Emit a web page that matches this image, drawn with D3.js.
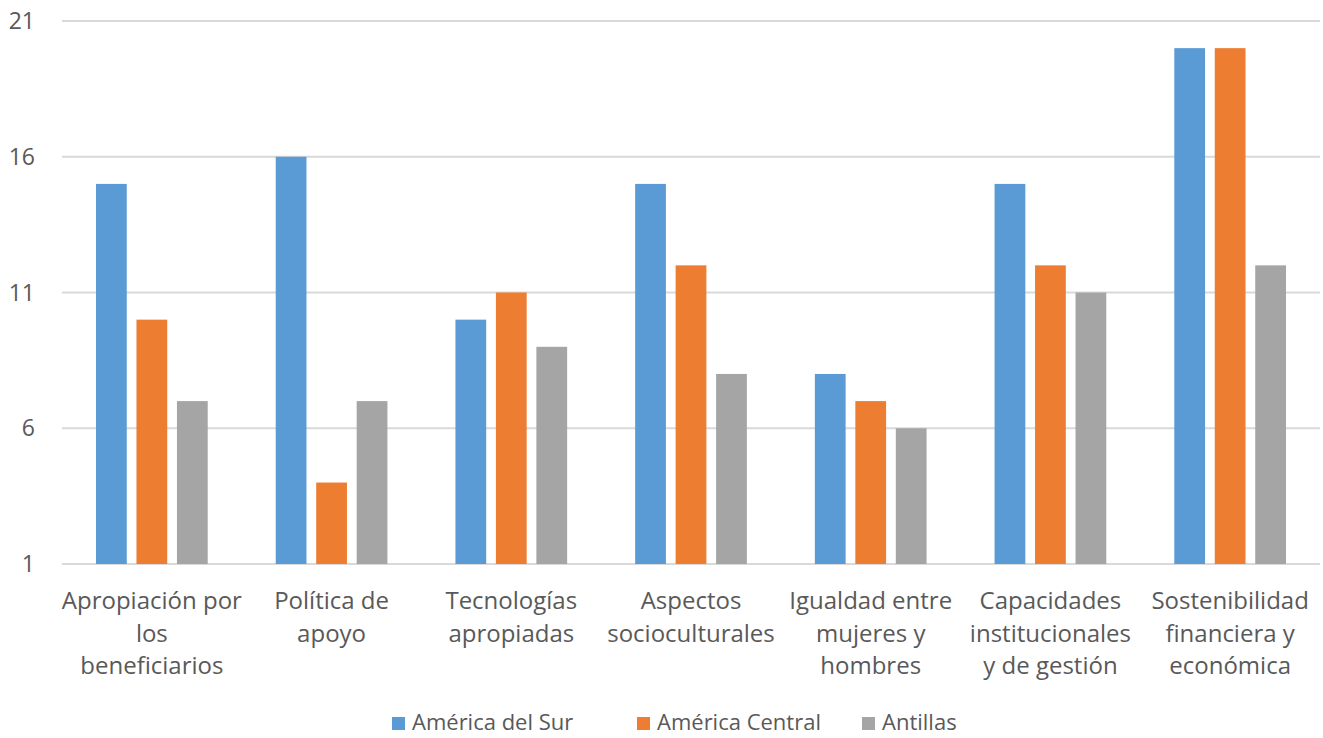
<!DOCTYPE html>
<html>
<head>
<meta charset="utf-8">
<script src="https://cdn.jsdelivr.net/npm/d3@7"></script>
<style>
	body { margin: 0; background: #fff; }
	text { font-family: "Open Sans", Lato, sans-serif; fill: #595959; }
</style>
</head>
<body>
<svg id="chart" width="1323" height="738"></svg>
<script>
// data
const categories = [
	['Apropiación por', 'los', 'beneficiarios'],
	['Política de', 'apoyo'],
	['Tecnologías', 'apropiadas'],
	['Aspectos', 'socioculturales'],
	['Igualdad entre', 'mujeres y', 'hombres'],
	['Capacidades', 'institucionales', 'y de gestión'],
	['Sostenibilidad', 'financiera y', 'económica']
];
const seriesNames = ['América del Sur', 'América Central', 'Antillas'];
const surValues = [15, 16, 10, 15, 8, 15, 20];
const centralValues = [10, 4, 11, 12, 7, 12, 20];
const antillasValues = [7, 7, 9, 8, 6, 11, 12];
const yTicks = [1, 6, 11, 16, 21];
const colors = ['#5b9bd5', '#ed7d31', '#a5a5a5'];

const series = [surValues, centralValues, antillasValues];
const svg = d3.select('#chart');

const plotLeft = 62, plotRight = 1320, plotTop = 21, plotBottom = 564;

let x = d3.scaleBand()
	.domain(d3.range(categories.length))
	.range([plotLeft, plotRight])
	.paddingInner(0)
	.paddingOuter(0);

let inner = d3.scaleBand()
	.domain(d3.range(series.length))
	.range([34, x.bandwidth() - 34])
	.paddingInner(0.24);

let y = d3.scaleLinear()
	.domain([1, 21])
	.range([plotBottom, plotTop]);

// gridlines
svg.append('g')
	.selectAll('line')
	.data(yTicks)
	.join('line')
	.attr('x1', plotLeft)
	.attr('x2', plotRight)
	.attr('y1', d => y(d))
	.attr('y2', d => y(d))
	.attr('stroke', '#d9d9d9')
	.attr('stroke-width', 2);

// y tick labels
svg.append('g')
	.selectAll('text')
	.data(yTicks)
	.join('text')
	.attr('x', 35)
	.attr('y', d => y(d))
	.attr('dy', '0.35em')
	.attr('text-anchor', 'end')
	.style('font-size', '23px')
	.text(d => d);

// bars
series.forEach((vals, s) => {
	svg.append('g')
		.selectAll('rect')
		.data(vals)
		.join('rect')
		.attr('x', (d, i) => x(i) + inner(s))
		.attr('width', inner.bandwidth())
		.attr('y', d => y(d))
		.attr('height', d => y(1) - y(d))
		.attr('fill', colors[s]);
});

// category labels
let cats = svg.append('g')
	.selectAll('text')
	.data(categories)
	.join('text')
	.attr('x', (d, i) => x(i) + x.bandwidth() / 2)
	.attr('y', 609)
	.attr('text-anchor', 'middle')
	.style('font-size', '24px');

cats.selectAll('tspan')
	.data(d => d)
	.join('tspan')
	.attr('x', function() { return d3.select(this.parentNode).attr('x'); })
	.attr('dy', (d, i) => i === 0 ? 0 : 32.5)
	.text(d => d);

// legend
let legend = svg.append('g');
let legendX = [392, 637, 862];
seriesNames.forEach((name, i) => {
	legend.append('rect')
		.attr('x', legendX[i])
		.attr('y', 717)
		.attr('width', 13)
		.attr('height', 13)
		.attr('fill', colors[i]);
	legend.append('text')
		.attr('x', legendX[i] + 20)
		.attr('y', 730)
		.style('font-size', '22px')
		.text(name);
});
</script>
</body>
</html>
